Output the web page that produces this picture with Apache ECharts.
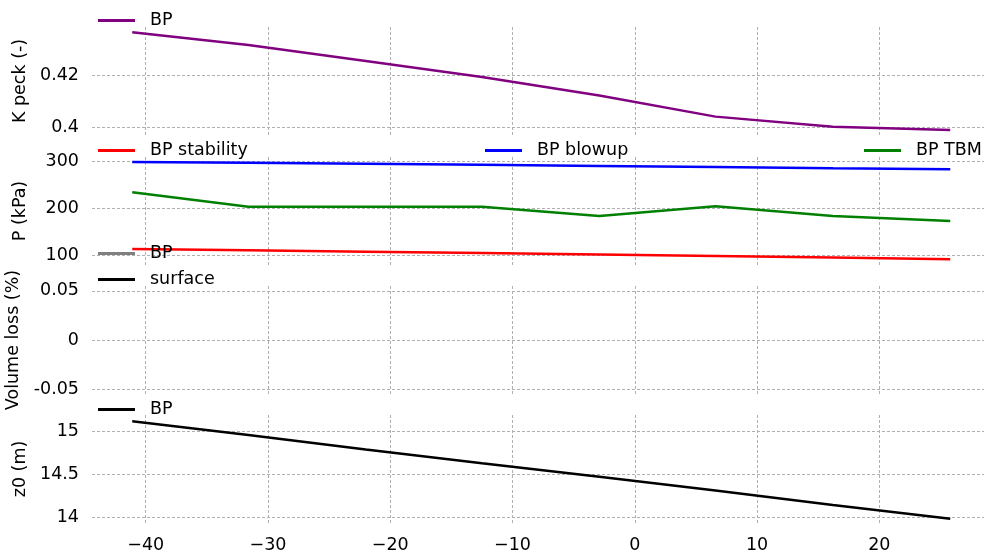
<!DOCTYPE html>
<html>
<head>
<meta charset="utf-8">
<script src="https://cdn.jsdelivr.net/npm/echarts@6/dist/echarts.min.js"></script>
<style>html,body{margin:0;padding:0;background:#fff}#c{width:984px;height:551px}</style>
</head>
<body>
<div id="c"></div>
<script>
// ---- data ----
const xValues = [-41.1, -31.6, -22.0, -12.5, -2.9, 6.6, 16.2, 25.8];
const kPeckBP = [0.4362, 0.4314, 0.4253, 0.4192, 0.4122, 0.4042, 0.4004, 0.3991];
const pStability = [114, 111.5, 108.5, 105.5, 102.5, 99.5, 96, 92.5];
const pBlowup = [299.6, 297.5, 295.5, 293.5, 291, 288.5, 286, 284];
const pTBM = [235, 204, 204, 204, 184.5, 205, 184.5, 174];
const volLossBP = [null, null, null, null, null, null, null, null];
const volLossSurface = [null, null, null, null, null, null, null, null];
const z0BP = [15.12, 14.96, 14.79, 14.63, 14.47, 14.31, 14.14, 13.98];
const yNames = ['K peck (-)', 'P (kPa)', 'Volume loss (%)', 'z0 (m)'];
const xTicks = [-40, -30, -20, -10, 0, 10, 20];
const kTicks = [0.4, 0.42];
const pTicks = [100, 200, 300];
const vTicks = [-0.05, 0, 0.05];
const zTicks = [14, 14.5, 15];

const FF = 'DejaVu Sans';
const FS = 17.5;
const GRIDC = '#b0b0b0';
const pairs = arr => xValues.map((x, i) => [x, arr[i]]);

const grids = [
  {left: 92, right: 0, top: 27, height: 108, outerBoundsMode: 'none', containLabel: false},
  {left: 92, right: 0, top: 157, height: 108, outerBoundsMode: 'none', containLabel: false},
  {left: 92, right: 0, top: 286, height: 108, outerBoundsMode: 'none', containLabel: false},
  {left: 92, right: 0, top: 415, height: 108, outerBoundsMode: 'none', containLabel: false}
];

function xAxis(i, showLabels) {
  return {
    type: 'value', gridIndex: i, min: -44.39, max: 28.56,
    axisLine: {show: false},
    axisTick: {show: false, customValues: xTicks},
    axisLabel: {show: showLabels, customValues: xTicks, fontSize: FS, fontFamily: FF, color: '#000', margin: 13,
      formatter: v => v < 0 ? '\u2212' + Math.abs(v) : String(v)},
    splitLine: {show: true, lineStyle: {color: GRIDC, type: [3, 2], width: 1}}
  };
}
function yAxis(i, min, max, ticks) {
  return {
    type: 'value', gridIndex: i, min, max,
    name: yNames[i], nameLocation: 'middle', nameGap: 63,
    nameTextStyle: {fontSize: FS, fontFamily: FF, color: '#000'},
    axisLine: {show: false},
    axisTick: {show: false, customValues: ticks},
    axisLabel: {customValues: ticks, fontSize: FS, fontFamily: FF, color: '#000', margin: 13,
      padding: [4, 0, 0, 0]},
    splitLine: {show: true, lineStyle: {color: GRIDC, type: [3, 2], width: 1}}
  };
}
function line(name, idx, data, color) {
  return {
    type: 'line', name, xAxisIndex: idx, yAxisIndex: idx, data: pairs(data),
    symbol: 'none', showSymbol: false, color,
    itemStyle: {color}, lineStyle: {color, width: 2.5}, connectNulls: false
  };
}
function leg(name, left, cy) {
  return {
    data: [name], left, top: cy - 9, padding: 0, itemWidth: 37, itemHeight: 3,
    icon: 'rect', selectedMode: false,
    formatter: n => n.split('|')[1],
    textStyle: {fontSize: FS, fontFamily: FF, color: '#000', lineHeight: 20, padding: [3, 0, 0, 10]}
  };
}

const chart = echarts.init(document.getElementById('c'), null, {renderer: 'canvas'});
chart.setOption({
  animation: false,
  backgroundColor: '#fff',
  grid: grids,
  xAxis: [xAxis(0, false), xAxis(1, false), xAxis(2, false), xAxis(3, true)],
  yAxis: [
    yAxis(0, 0.39723, 0.4382, kTicks),
    yAxis(1, 80.2, 310, pTicks),
    yAxis(2, -0.055, 0.055, vTicks),
    yAxis(3, 13.93, 15.193, zTicks)
  ],
  legend: [
    leg('K|BP', 98, 18),
    leg('P|BP stability', 98, 148),
    leg('P|BP blowup', 485, 148),
    leg('P|BP TBM', 864, 148),
    leg('V|BP', 98, 251),
    leg('V|surface', 98, 277),
    leg('Z|BP', 98, 407)
  ],
  series: [
    line('K|BP', 0, kPeckBP, '#800080'),
    line('P|BP stability', 1, pStability, '#ff0000'),
    line('P|BP blowup', 1, pBlowup, '#0000ff'),
    line('P|BP TBM', 1, pTBM, '#008000'),
    line('V|BP', 2, volLossBP, '#808080'),
    line('V|surface', 2, volLossSurface, '#000000'),
    line('Z|BP', 3, z0BP, '#000000')
  ]
});
</script>
</body>
</html>
